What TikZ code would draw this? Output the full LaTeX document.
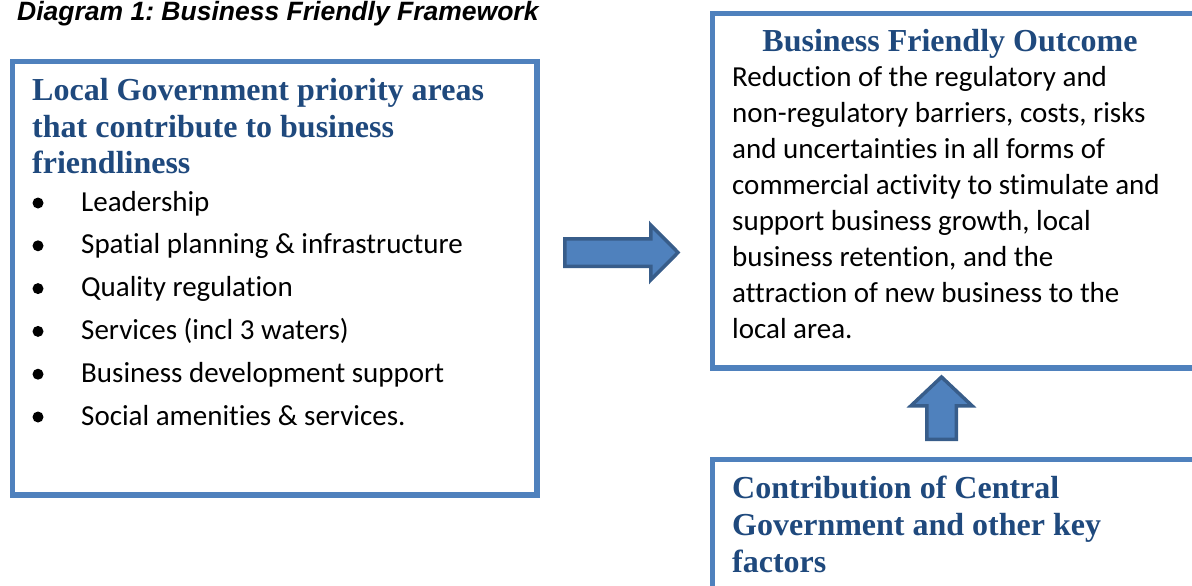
\documentclass[tikz,border=0pt]{standalone}
\usepackage{fontspec}
\setmainfont{Liberation Serif}
\newfontfamily\calfont[Ligatures={NoCommon}]{Carlito}
\newfontfamily\arialfont{Liberation Sans}
\frenchspacing
\definecolor{boxblue}{HTML}{4F81BD}
\definecolor{arrowedge}{HTML}{385D8A}
\definecolor{headblue}{HTML}{1F497D}
\tikzset{
  framebox/.style={draw=boxblue, line width=5.5pt, fill=white, inner sep=0pt, anchor=north west},
  headtext/.style={inner sep=0pt, anchor=base west, text=headblue, font=\bfseries\fontsize{32}{36}\selectfont},
  bodytext/.style={inner sep=0pt, anchor=base west, text=black, font=\calfont\fontsize{29}{36}\selectfont},
  blockarrow/.style={draw=arrowedge, fill=boxblue, line width=3.5pt, line join=miter}
}
\begin{document}
\begin{tikzpicture}[x=1pt, y=-1pt]
\useasboundingbox (0,0) rectangle (1192,586);
\clip (0,0) rectangle (1192,586);

% title
\node[inner sep=0pt, anchor=base west, font=\arialfont\bfseries\itshape\fontsize{26.5}{30}\selectfont] (title) at (17,21) {Diagram 1: Business Friendly Framework};

% left box
\node[framebox, minimum width=524.5pt, minimum height=433.5pt] (lg) at (9.75,58.75) {};
\node[headtext] (lgh1) at (32,100) {Local Government priority areas};
\node[headtext] (lgh2) at (32,137) {that contribute to business};
\node[headtext] (lgh3) at (32,173) {friendliness};
\foreach \t [count=\i] in {Leadership, Spatial planning \& infrastructure, Quality regulation, Services (incl 3 waters), Business development support, Social amenities \& services.}{
  \pgfmathsetmacro{\yy}{211+42.8*(\i-1)}
  \fill (38,\yy-8) circle (5.5pt);
  \node[bodytext] (item\i) at (81,\yy) {\t};
}

% right box (outcome)
\node[framebox, minimum width=500pt, minimum height=354.5pt] (bfo) at (709.75,10.75) {};
\node[inner sep=0pt, anchor=base, text=headblue, font=\bfseries\fontsize{32}{36}\selectfont] (bfoh) at (950,52) {Business Friendly Outcome};
\foreach \t [count=\i] in {Reduction of the regulatory and, non-regulatory barriers{,} costs{,} risks, and uncertainties in all forms of, commercial activity to stimulate and, support business growth{,} local, business retention{,} and the, attraction of new business to the, local area.}{
  \pgfmathsetmacro{\yy}{87+35.9*(\i-1)}
  \node[bodytext] (bfol\i) at (732,\yy) {\t};
}

% bottom box (central government)
\node[framebox, minimum width=500pt, minimum height=200pt] (cg) at (709.75,456.75) {};
\node[headtext] (cgh1) at (732,498) {Contribution of Central};
\node[headtext] (cgh2) at (732,535) {Government and other key};
\node[headtext] (cgh3) at (732,572) {factors};

% block arrows
\draw[blockarrow] (564.75,238.75) -- (650.75,238.75) -- (650.75,225) -- (678,252.5) -- (650.75,280) -- (650.75,266.25) -- (564.75,266.25) -- cycle;
\draw[blockarrow] (941.5,377) -- (972,405.75) -- (956.25,405.75) -- (956.25,439.25) -- (926.75,439.25) -- (926.75,405.75) -- (911,405.75) -- cycle;
\end{tikzpicture}
\end{document}
